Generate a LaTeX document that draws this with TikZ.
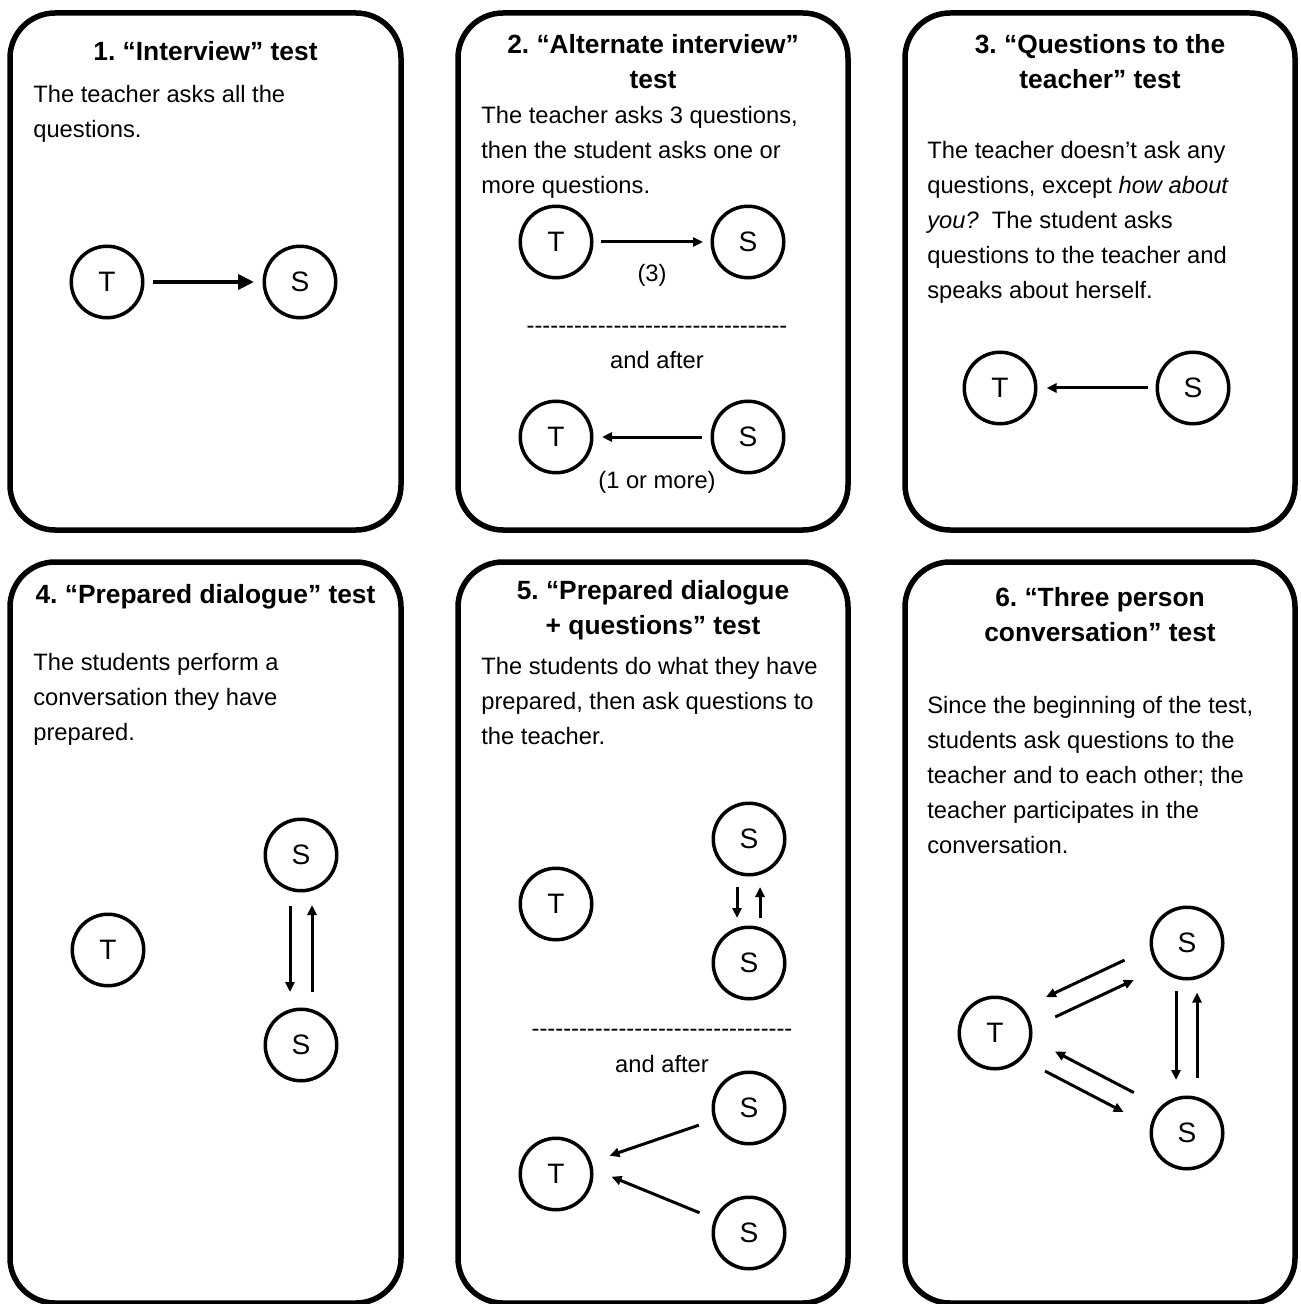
\documentclass[tikz,border=0pt]{standalone}
\usepackage{fontspec}
\setmainfont{Liberation Sans}
\usetikzlibrary{arrows.meta}
\frenchspacing
\newcommand{\hyphenrow}{\foreach\k in {1,...,33}{-\kern0pt}}

\begin{document}
\begin{tikzpicture}[x=0.2mm, y=-0.2mm,
    card/.style={line width=1.1mm, rounded corners=9mm},
    person/.style={circle, draw, line width=0.7mm, minimum size=14.3mm, inner sep=0pt,
      font=\fontsize{16}{19}\selectfont},
    heading/.style={anchor=north, align=center, inner sep=0pt,
      font=\bfseries\fontsize{15}{19.9}\selectfont},
    body/.style={anchor=north west, align=left, inner sep=0pt,
      font=\fontsize{13.5}{19.9}\selectfont},
    note/.style={anchor=base, inner sep=0pt, font=\fontsize{13.5}{16}\selectfont},
    qarrowbig/.style={line width=0.8mm, -{Triangle[length=3.2mm, width=3mm]}},
    qarrow/.style={line width=0.6mm, -{Triangle[length=2mm, width=1.8mm]}}]
    \useasboundingbox (0,0) rectangle (1300,1304);

    % the six cards
    \draw[card] (10,13) rectangle (401,530);
    \draw[card] (458,13) rectangle (848,530);
    \draw[card] (905,13) rectangle (1295,530);
    \draw[card] (10,562) rectangle (401,1303);
    \draw[card] (458,562) rectangle (848,1303);
    \draw[card] (905,562) rectangle (1295,1303);

    % 1. interview
    \node[heading] (title1) at (205.5,41) {1. “Interview” test};
    \node[body] (text1) at (33,85) {The teacher asks all the\\questions.};
    \node[person] (T1) at (107,282) {T};
    \node[person] (S1) at (300,282) {S};
    \draw[qarrowbig, shorten <=1.6mm, shorten >=1.7mm] (T1) -- (S1);

    % 2. alternate interview
    \node[heading] (title2) at (653,34) {2. “Alternate interview”\\test};
    \node[body] (text2) at (481,106) {The teacher asks 3 questions,\\then the student asks one or\\more questions.};
    \node[person] (T2a) at (556,242) {T};
    \node[person] (S2a) at (748,242) {S};
    \draw[qarrow, shorten <=1.5mm, shorten >=1.5mm] (T2a) -- (S2a);
    \node[note] (count2a) at (652,282) {(3)};
    \node[note] (dash2) at (657,334) {\hyphenrow};
    \node[note] (after2) at (657,369) {and after};
    \node[person] (T2b) at (556,437) {T};
    \node[person] (S2b) at (748,437) {S};
    \draw[qarrow, shorten <=1.7mm, shorten >=1.7mm] (S2b) -- (T2b);
    \node[note] (count2b) at (657,488) {(1 or more)};

    % 3. questions to the teacher
    \node[heading] (title3) at (1100,34) {3. “Questions to the\\teacher” test};
    \node[body] (text3) at (927,141) {The teacher doesn’t ask any\\questions, except \textit{how about}\\\textit{you?}~ The student asks\\questions to the teacher and\\speaks about herself.};
    \node[person] (T3) at (1000,388) {T};
    \node[person] (S3) at (1193,388) {S};
    \draw[qarrow, shorten <=1.5mm, shorten >=1.8mm] (S3) -- (T3);

    % 4. prepared dialogue
    \node[heading] (title4) at (205.5,584) {4. “Prepared dialogue” test};
    \node[body] (text4) at (33,653) {The students perform a\\conversation they have\\prepared.};
    \node[person] (T4) at (108,950) {T};
    \node[person] (S4a) at (301,855) {S};
    \node[person] (S4b) at (301,1045) {S};
    \draw[qarrow, shorten <=2.7mm, shorten >=3.1mm] ([shift={(-11,0)}]S4a.south) -- ([shift={(-11,0)}]S4b.north);
    \draw[qarrow, shorten <=3.1mm, shorten >=2.5mm] ([shift={(11,0)}]S4b.north) -- ([shift={(11,0)}]S4a.south);

    % 5. prepared dialogue + questions
    \node[heading] (title5) at (653,580) {5. “Prepared dialogue\\+ questions” test};
    \node[body] (text5) at (481,657) {The students do what they have\\prepared, then ask questions to\\the teacher.};
    \node[person] (T5a) at (556,904) {T};
    \node[person] (S5a) at (749,839) {S};
    \node[person] (S5b) at (749,963) {S};
    \draw[qarrow, shorten <=2.1mm, shorten >=1.5mm] ([shift={(-12,0)}]S5a.south) -- ([shift={(-12,0)}]S5b.north);
    \draw[qarrow, shorten <=1.5mm, shorten >=2.1mm] ([shift={(11,0)}]S5b.north) -- ([shift={(11,0)}]S5a.south);
    \node[note] (dash5) at (662,1036) {\hyphenrow};
    \node[note] (after5) at (662,1072) {and after};
    \node[person] (S5c) at (749,1108) {S};
    \node[person] (T5b) at (556,1174) {T};
    \node[person] (S5d) at (749,1233) {S};
    \draw[qarrow, shorten <=3.1mm, shorten >=3.8mm] (S5c) -- (T5b);
    \draw[qarrow, shorten <=3.2mm, shorten >=12mm] (S5d) -- ([shift={(0,-20)}]T5b.center);

    % 6. three person conversation
    \node[heading] (title6) at (1100,587) {6. “Three person\\conversation” test};
    \node[body] (text6) at (927,696) {Since the beginning of the test,\\students ask questions to the\\teacher and to each other; the\\teacher participates in the\\conversation.};
    \node[person] (T6) at (995,1033) {T};
    \node[person] (S6a) at (1187,943) {S};
    \node[person] (S6b) at (1187,1133) {S};
    \draw[qarrow, shorten <=5.6mm, shorten >=5.1mm] (S6a.188) -- (T6.42);
    \draw[qarrow, shorten <=5.1mm, shorten >=5.6mm] (T6.8) -- (S6a.222);
    \draw[qarrow, shorten <=6mm, shorten >=5.2mm] (S6b.135.5) -- (T6.-10.5);
    \draw[qarrow, shorten <=5.2mm, shorten >=6mm] (T6.-44.5) -- (S6b.169.5);
    \draw[qarrow, shorten <=2mm, shorten >=3.1mm] ([shift={(-11,0)}]S6a.south) -- ([shift={(-11,0)}]S6b.north);
    \draw[qarrow, shorten <=3.5mm, shorten >=2.4mm] ([shift={(10,0)}]S6b.north) -- ([shift={(10,0)}]S6a.south);
\end{tikzpicture}
\end{document}
